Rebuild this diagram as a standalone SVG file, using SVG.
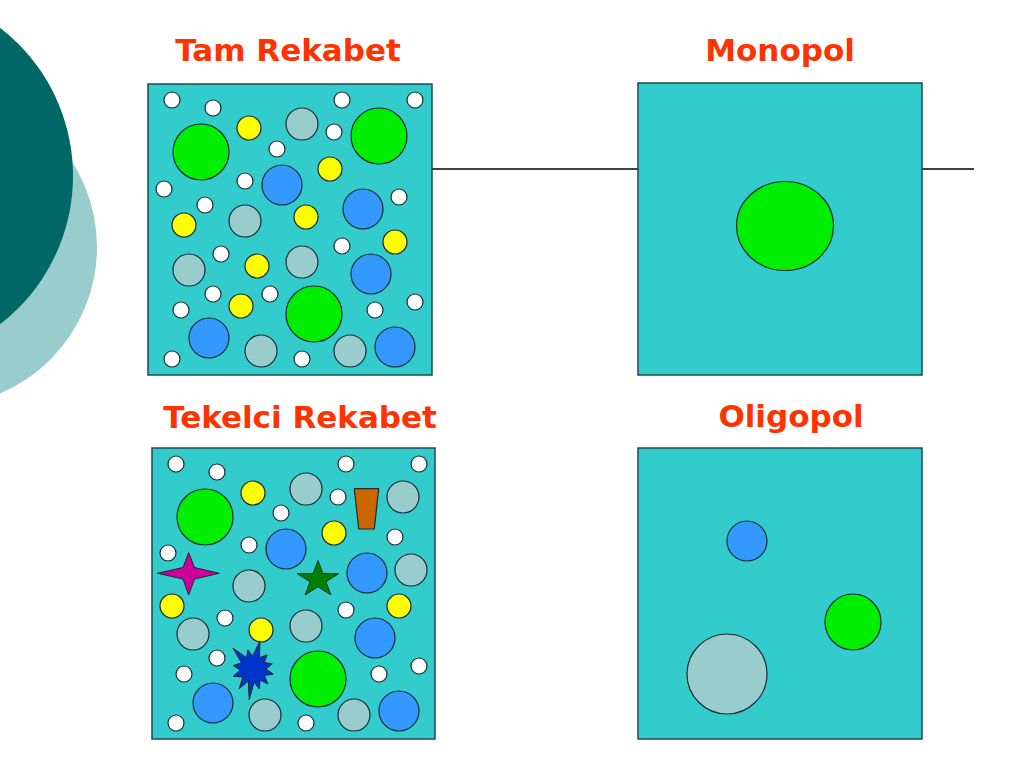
<svg xmlns="http://www.w3.org/2000/svg" width="1024" height="767" viewBox="0 0 1024 767">
<style>
.title{font-family:"DejaVu Sans","Liberation Sans",sans-serif;font-weight:bold;font-size:31px;fill:#FF3300;text-anchor:middle}
.box{fill:#33CCCC;stroke:#1E4A55;stroke-width:1.5}
.w{fill:#FFFFFF;stroke:#1A2A33;stroke-width:1.2}
.y{fill:#FFFF00;stroke:#1A2A33;stroke-width:1.2}
.g{fill:#99CCCC;stroke:#1A2A33;stroke-width:1.2}
.b{fill:#3399FF;stroke:#1A2A33;stroke-width:1.2}
.gr{fill:#00EE00;stroke:#1A2A33;stroke-width:1.2}
.conn{stroke:#000000;stroke-width:1.5;fill:none}
</style>
<rect width="1024" height="767" fill="#FFFFFF"/>
<g id="decor">
<circle cx="-62" cy="247" r="159" fill="#99CCCC"/>
<circle cx="-114" cy="176" r="187" fill="#006666"/>
</g>
<g id="connectors">
<line class="conn" x1="432" y1="169" x2="974" y2="169"/>
</g>
<g id="tam-rekabet">
<text class="title" x="288" y="61">Tam Rekabet</text>
<rect class="box" x="148" y="84" width="284" height="291"/>
<circle class="w" cx="172" cy="100" r="8"/>
<circle class="w" cx="213" cy="108" r="8"/>
<circle class="w" cx="342" cy="100" r="8"/>
<circle class="w" cx="415" cy="100" r="8"/>
<circle class="w" cx="334" cy="132" r="8"/>
<circle class="w" cx="277" cy="149" r="8"/>
<circle class="w" cx="245" cy="181" r="8"/>
<circle class="w" cx="164" cy="189" r="8"/>
<circle class="w" cx="205" cy="205" r="8"/>
<circle class="w" cx="399" cy="197" r="8"/>
<circle class="w" cx="342" cy="246" r="8"/>
<circle class="w" cx="221" cy="254" r="8"/>
<circle class="w" cx="213" cy="294" r="8"/>
<circle class="w" cx="270" cy="294" r="8"/>
<circle class="w" cx="181" cy="310" r="8"/>
<circle class="w" cx="375" cy="310" r="8"/>
<circle class="w" cx="415" cy="302" r="8"/>
<circle class="w" cx="172" cy="359" r="8"/>
<circle class="w" cx="302" cy="359" r="8"/>
<circle class="y" cx="249" cy="128" r="12"/>
<circle class="y" cx="330" cy="169" r="12"/>
<circle class="y" cx="184" cy="225" r="12"/>
<circle class="y" cx="306" cy="217" r="12"/>
<circle class="y" cx="395" cy="242" r="12"/>
<circle class="y" cx="257" cy="266" r="12"/>
<circle class="y" cx="241" cy="306" r="12"/>
<circle class="g" cx="302" cy="124" r="16"/>
<circle class="g" cx="245" cy="221" r="16"/>
<circle class="g" cx="189" cy="270" r="16"/>
<circle class="g" cx="302" cy="262" r="16"/>
<circle class="g" cx="261" cy="351" r="16"/>
<circle class="g" cx="350" cy="351" r="16"/>
<circle class="b" cx="282" cy="185" r="20"/>
<circle class="b" cx="363" cy="209" r="20"/>
<circle class="b" cx="371" cy="274" r="20"/>
<circle class="b" cx="209" cy="338" r="20"/>
<circle class="b" cx="395" cy="347" r="20"/>
<circle class="gr" cx="201" cy="152" r="28"/>
<circle class="gr" cx="379" cy="136" r="28"/>
<circle class="gr" cx="314" cy="314" r="28"/>
</g>
<g id="monopol">
<text class="title" x="780" y="61">Monopol</text>
<rect class="box" x="638" y="83" width="284" height="292"/>
<ellipse class="gr" cx="785" cy="226" rx="48.5" ry="44.5"/>
</g>
<g id="tekelci-rekabet">
<text class="title" x="300" y="428">Tekelci Rekabet</text>
<rect class="box" x="152" y="448" width="283" height="291"/>
<circle class="w" cx="176" cy="464" r="8"/>
<circle class="w" cx="217" cy="472" r="8"/>
<circle class="w" cx="346" cy="464" r="8"/>
<circle class="w" cx="419" cy="464" r="8"/>
<circle class="w" cx="338" cy="497" r="8"/>
<circle class="w" cx="281" cy="513" r="8"/>
<circle class="w" cx="249" cy="545" r="8"/>
<circle class="w" cx="168" cy="553" r="8"/>
<circle class="w" cx="395" cy="537" r="8"/>
<circle class="w" cx="346" cy="610" r="8"/>
<circle class="w" cx="225" cy="618" r="8"/>
<circle class="w" cx="217" cy="658" r="8"/>
<circle class="w" cx="184" cy="674" r="8"/>
<circle class="w" cx="379" cy="674" r="8"/>
<circle class="w" cx="419" cy="666" r="8"/>
<circle class="w" cx="176" cy="723" r="8"/>
<circle class="w" cx="306" cy="723" r="8"/>
<circle class="y" cx="253" cy="493" r="12"/>
<circle class="y" cx="334" cy="533" r="12"/>
<circle class="y" cx="172" cy="606" r="12"/>
<circle class="y" cx="399" cy="606" r="12"/>
<circle class="y" cx="261" cy="630" r="12"/>
<circle class="g" cx="306" cy="489" r="16"/>
<circle class="g" cx="403" cy="497" r="16"/>
<circle class="g" cx="411" cy="570" r="16"/>
<circle class="g" cx="249" cy="586" r="16"/>
<circle class="g" cx="193" cy="634" r="16"/>
<circle class="g" cx="306" cy="626" r="16"/>
<circle class="g" cx="265" cy="715" r="16"/>
<circle class="g" cx="354" cy="715" r="16"/>
<circle class="b" cx="286" cy="549" r="20"/>
<circle class="b" cx="367" cy="573" r="20"/>
<circle class="b" cx="375" cy="638" r="20"/>
<circle class="b" cx="213" cy="703" r="20"/>
<circle class="b" cx="399" cy="711" r="20"/>
<circle class="gr" cx="205" cy="517" r="28"/>
<circle class="gr" cx="318" cy="679" r="28"/>
<polygon points="354.3,488.7 378.7,488.7 374.3,529 358.7,529" fill="#CC6600" stroke="#1A2A33" stroke-width="1.2"/>
<polygon points="188.7,552.7 194.5,567.5 219.3,573.3 194.5,579 188.7,595 183,579 157.5,573.3 183,567.5" fill="#CC0099" stroke="#1A2A33" stroke-width="1"/>
<polygon transform="translate(318,579.5)" points="0,-19 4.93,-5.91 20.78,-5.87 7.98,2.26 12.85,15.37 0,7.3 -12.85,15.37 -7.98,2.26 -20.78,-5.87 -4.93,-5.91" fill="#008000" stroke="#1A2A33" stroke-width="1"/>
<polygon transform="translate(253,669)" points="7,-28.1 6.5,-11.3 14.1,-14.1 11.3,-6.5 19.3,-5.2 13,0 20.4,5.1 11.3,6.5 14.8,14.8 6.9,11 6.5,20 1.1,13 -3.8,30.8 -4.7,12.1 -13.8,19.7 -10.2,8 -19.7,7.2 -13,1.1 -19.7,-3.5 -11.5,-6.1 -20.1,-20.9 -6.5,-11.3 -5.2,-19.3 -0.5,-13" fill="#0033CC" stroke="#1A2A33" stroke-width="1"/>
</g>
<g id="oligopol">
<text class="title" x="791" y="427">Oligopol</text>
<rect class="box" x="638" y="448" width="284" height="291"/>
<circle class="b" cx="747" cy="541" r="20"/>
<circle class="gr" cx="853" cy="622" r="28"/>
<circle class="g" cx="727" cy="674" r="40"/>
</g>
</svg>
